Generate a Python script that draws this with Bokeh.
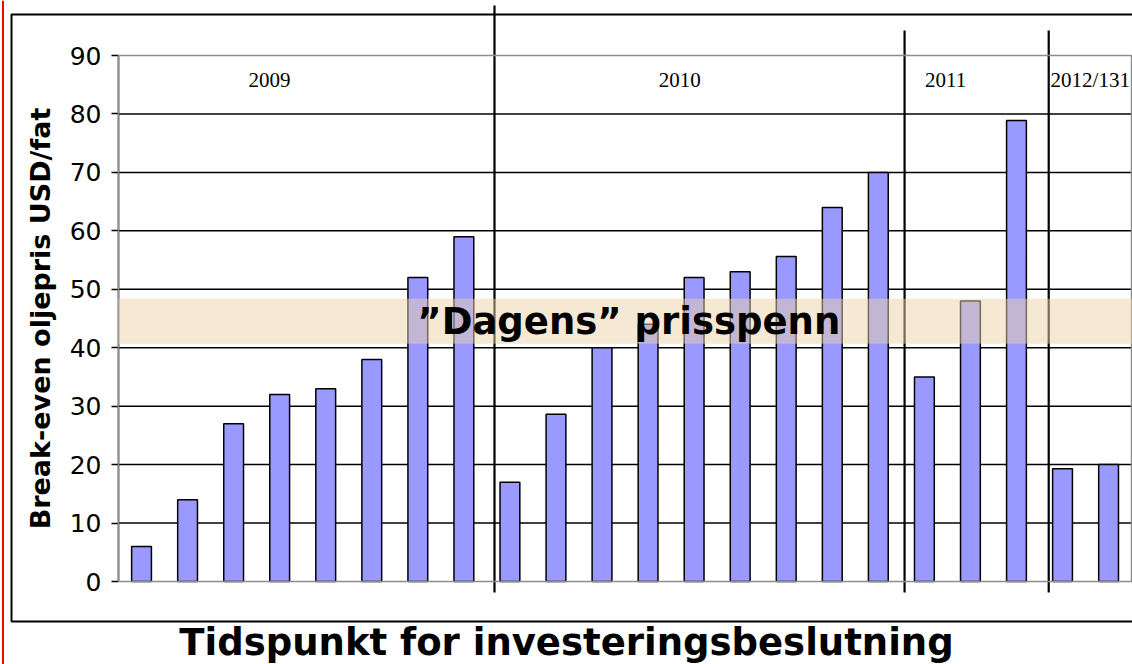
from bokeh.plotting import figure
from bokeh.models import FixedTicker, BoxAnnotation, Label, Range1d, ColumnDataSource, Span
from bokeh.core.properties import value
from bokeh.embed import file_html
from bokeh.resources import INLINE

# ---- data ----
values = [6, 14, 27, 32, 33, 38, 52, 59,
          17, 28.6, 40, 44, 52, 53, 55.6, 64, 70,
          35, 48, 78.9,
          19.3, 20]
positions = [i + 0.5 for i in range(len(values))]
year_labels = ["2009", "2010", "2011", "2012/131"]
year_label_x = [3.28, 12.19, 17.96, 20.24]
year_label_align = ["center", "center", "center", "left"]
separator_x = [8.165, 17.07, 20.2]
band_low, band_high = 40.7, 48.4
y_ticks = list(range(0, 100, 10))
grid_ticks = list(range(10, 90, 10))

W, H = 1132, 664
X0_PX, Y0_PX = 118, 581          # pixel position of data origin
PX_PER_CAT = 46.05
PX_PER_UNIT = 5.844


def px_to_x(px):
    return (px - X0_PX) / PX_PER_CAT


def py_to_y(py):
    return (Y0_PX - py) / PX_PER_UNIT


p = figure(width=W, height=H, output_backend="svg", toolbar_location=None,
           x_range=Range1d(px_to_x(0), px_to_x(W)),
           y_range=Range1d(py_to_y(H), py_to_y(0)),
           min_border=0, min_border_left=0, min_border_right=0,
           min_border_top=0, min_border_bottom=0,
           background_fill_color="white", border_fill_color="white")
p.outline_line_color = None
p.xgrid.visible = False
p.ygrid.visible = False
p.xaxis.visible = False

x_right = px_to_x(1131)

# horizontal grid lines (axis to right edge)
p.segment(x0=[0] * len(grid_ticks), x1=[x_right] * len(grid_ticks),
          y0=grid_ticks, y1=grid_ticks, line_color="black", line_width=1.5)

# y axis placed at x = 0
ya = p.yaxis[0]
ya.fixed_location = 0
ya.bounds = (0, 90)
ya.ticker = FixedTicker(ticks=y_ticks)
ya.axis_line_color = "black"
ya.axis_line_width = 1.5
ya.major_tick_line_color = "black"
ya.major_tick_line_width = 1.5
ya.major_tick_out = 7
ya.major_tick_in = 0
ya.minor_tick_line_color = None
ya.major_label_text_font = "DejaVu Sans"
ya.major_label_text_font_size = "25px"
ya.major_label_text_color = "black"
ya.major_label_standoff = 10
ya.axis_label = "Break-even oljepris USD/fat"
ya.axis_label_text_font = "DejaVu Sans"
ya.axis_label_text_font_style = "bold"
ya.axis_label_text_font_size = "27px"
ya.axis_label_text_color = "black"
ya.axis_label_standoff = 11

# bars
src = ColumnDataSource(dict(x=positions, top=values))
p.vbar(x="x", top="top", width=0.43, source=src, fill_color="#9999FF",
       line_color="black", line_width=1.5)

# plot-area outline (grey) at 0, 90 and right edge
p.add_layout(BoxAnnotation(left=0, right=x_right, bottom=0, top=90,
                           fill_alpha=0, line_color="#8c8c8c", line_alpha=1,
                           line_width=1.5))

# year labels
ysrc = ColumnDataSource(dict(x=year_label_x, y=[85.9] * len(year_labels),
                             t=year_labels, a=year_label_align))
p.text(x="x", y="y", text="t", text_align="a", source=ysrc,
       text_baseline="middle", text_font=value("Liberation Serif"),
       text_font_size="21px", text_color="black")

# price band (overlay, semi-transparent above bars)
p.add_layout(BoxAnnotation(left=0, bottom=band_low, top=band_high, fill_color="#EBD3AA",
                           fill_alpha=0.5, line_alpha=0, level="overlay"))
p.add_layout(Label(x=6.49, y=(band_low + band_high) / 2, text="\u201dDagens\u201d prisspenn",
                   text_font="DejaVu Sans", text_font_style="bold",
                   text_font_size="37px", text_baseline="middle",
                   text_color="black", level="overlay"))

# separators between years
sep_tops = [5, 30, 30]
p.segment(x0=separator_x, x1=separator_x,
          y0=[py_to_y(t) for t in sep_tops], y1=[py_to_y(592)] * len(separator_x),
          line_color="black", line_width=2.2)

# outer slide box
p.add_layout(BoxAnnotation(left=px_to_x(11), right=px_to_x(1145),
                           top=py_to_y(14), bottom=py_to_y(621),
                           fill_alpha=0, line_color="black", line_alpha=1,
                           line_width=2))
# red margin line
p.add_layout(Span(location=px_to_x(2.5), dimension="height",
                  line_color="red", line_width=2))

# x-axis title
p.add_layout(Label(x=px_to_x(566), y=py_to_y(642), text="Tidspunkt for investeringsbeslutning",
                   text_font="DejaVu Sans", text_font_style="bold",
                   text_font_size="37px", text_align="center",
                   text_baseline="middle", text_color="black"))

open("out.html", "w").write(file_html(p, INLINE))
